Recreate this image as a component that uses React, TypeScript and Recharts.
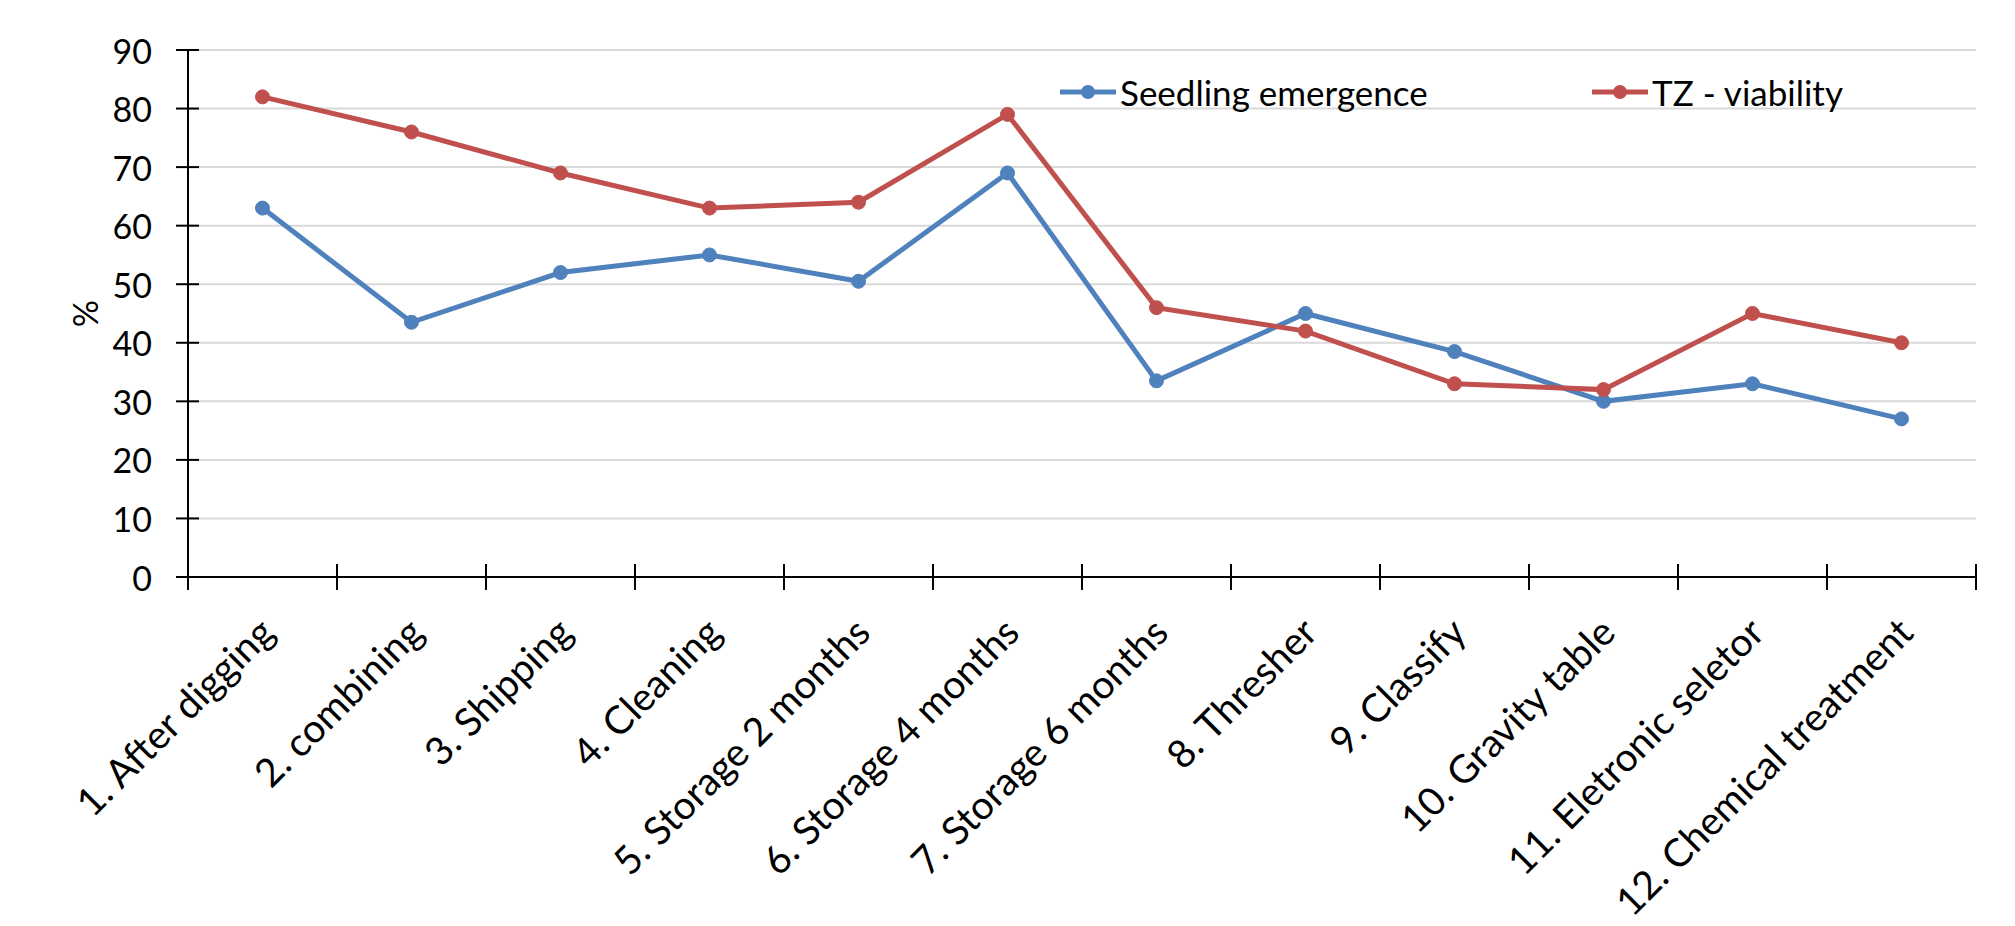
import {
  LineChart,
  Line,
  XAxis,
  YAxis,
  CartesianGrid,
  Legend,
  Label,
} from "recharts";

const stages = [
  "1. After digging",
  "2.  combining",
  "3. Shipping",
  "4. Cleaning",
  "5. Storage 2 months",
  "6. Storage 4 months",
  "7. Storage 6 months",
  "8. Thresher",
  "9. Classify",
  "10. Gravity table",
  "11. Eletronic seletor",
  "12. Chemical treatment",
];

const emergence = [63, 43.5, 52, 55, 50.5, 69, 33.5, 45, 38.5, 30, 33, 27];
const viability = [82, 76, 69, 63, 64, 79, 46, 42, 33, 32, 45, 40];

const yTicks = [0, 10, 20, 30, 40, 50, 60, 70, 80, 90];

const data = stages.map((stage, i) => ({
  stage,
  emergence: emergence[i],
  viability: viability[i],
}));

const FONT = "Lato, 'Open Sans', sans-serif";
const BLUE = "#4F81BD";
const RED = "#C0504D";

const W = 2015;
const H = 926;
const LEFT = 188;
const RIGHT = 39;
const TOP = 50;
const X_AXIS_H = 349;
const BAND = (W - LEFT - RIGHT) / stages.length;

// y ticks: label plus a short mark crossing the axis
const YTick = (props: any) => {
  const { x, y, payload } = props;
  const ax = x + 36;
  return (
    <g>
      <line x1={ax - 12} x2={ax + 11} y1={y} y2={y} stroke="#000" strokeWidth={2} />
      <text
        x={x}
        y={y}
        textAnchor="end"
        dominantBaseline="central"
        fontFamily={FONT}
        fontSize={34}
        fill="#000"
      >
        {payload.value}
      </text>
    </g>
  );
};

// x ticks: marks sit on category boundaries, labels slanted at the centre
const XTick = (props: any) => {
  const { x, y, payload, index } = props;
  const ay = y - 12;
  const left = x - BAND / 2;
  const right = x + BAND / 2;
  return (
    <g>
      <line x1={left} x2={left} y1={ay - 13} y2={ay + 13} stroke="#000" strokeWidth={2} />
      {index === stages.length - 1 && (
        <line x1={right} x2={right} y1={ay - 13} y2={ay + 13} stroke="#000" strokeWidth={2} />
      )}
      <text
        transform={`translate(${x + 14},${ay + 58}) rotate(-45)`}
        textAnchor="end"
        fontFamily={FONT}
        fontSize={39}
        fill="#000"
      >
        {payload.value}
      </text>
    </g>
  );
};

const LegendContent = (props: any) => {
  const { payload } = props;
  return (
    <div style={{ display: "flex" }}>
      {payload.map((item: any) => (
        <div
          key={item.value}
          style={{ display: "flex", alignItems: "center", width: 532, flexShrink: 0 }}
        >
          <svg width={60} height={20}>
            <line x1={2} x2={58} y1={10} y2={10} stroke={item.color} strokeWidth={5} />
            <circle cx={30} cy={10} r={7} fill={item.color} />
          </svg>
          <span
            style={{
              fontFamily: FONT,
              fontSize: 35,
              color: "#000",
              marginLeft: 2,
              lineHeight: "40px",
            }}
          >
            {item.value}
          </span>
        </div>
      ))}
    </div>
  );
};

export default function App() {
  return (
    <div style={{ position: "absolute", left: 0, top: 0, background: "#fff" }}>
      <LineChart
        width={W}
        height={H}
        data={data}
        margin={{ top: TOP, right: RIGHT, left: 0, bottom: 0 }}
      >
        <CartesianGrid vertical={false} stroke="#D9D9D9" strokeWidth={2} />
        <XAxis
          dataKey="stage"
          height={X_AXIS_H}
          interval={0}
          padding={{ left: BAND / 2, right: BAND / 2 }}
          tickLine={false}
          tickSize={12}
          tickMargin={0}
          axisLine={{ stroke: "#000", strokeWidth: 2 }}
          tick={<XTick />}
        />
        <YAxis
          width={LEFT}
          domain={[0, 90]}
          ticks={yTicks}
          interval={0}
          tickLine={false}
          tickSize={12}
          tickMargin={24}
          axisLine={{ stroke: "#000", strokeWidth: 2 }}
          tick={<YTick />}
        >
          <Label
            content={(p: any) => {
              const vb = p.viewBox;
              const cy = vb.y + vb.height / 2;
              return (
                <text
                  transform={`translate(84,${cy}) rotate(-90)`}
                  textAnchor="middle"
                  dominantBaseline="central"
                  fontFamily={FONT}
                  fontSize={34}
                  fill="#000"
                >
                  %
                </text>
              );
            }}
          />
        </YAxis>
        <Legend
          verticalAlign="middle"
          wrapperStyle={{ top: 72, left: 1058, width: 1100 }}
          content={<LegendContent />}
        />
        <Line
          dataKey="emergence"
          name="Seedling emergence"
          type="linear"
          stroke={BLUE}
          strokeWidth={5}
          dot={{ r: 7, fill: BLUE, stroke: BLUE, strokeWidth: 1 }}
          activeDot={false}
          isAnimationActive={false}
        />
        <Line
          dataKey="viability"
          name="TZ - viability"
          type="linear"
          stroke={RED}
          strokeWidth={5}
          dot={{ r: 7, fill: RED, stroke: RED, strokeWidth: 1 }}
          activeDot={false}
          isAnimationActive={false}
        />
      </LineChart>
    </div>
  );
}
